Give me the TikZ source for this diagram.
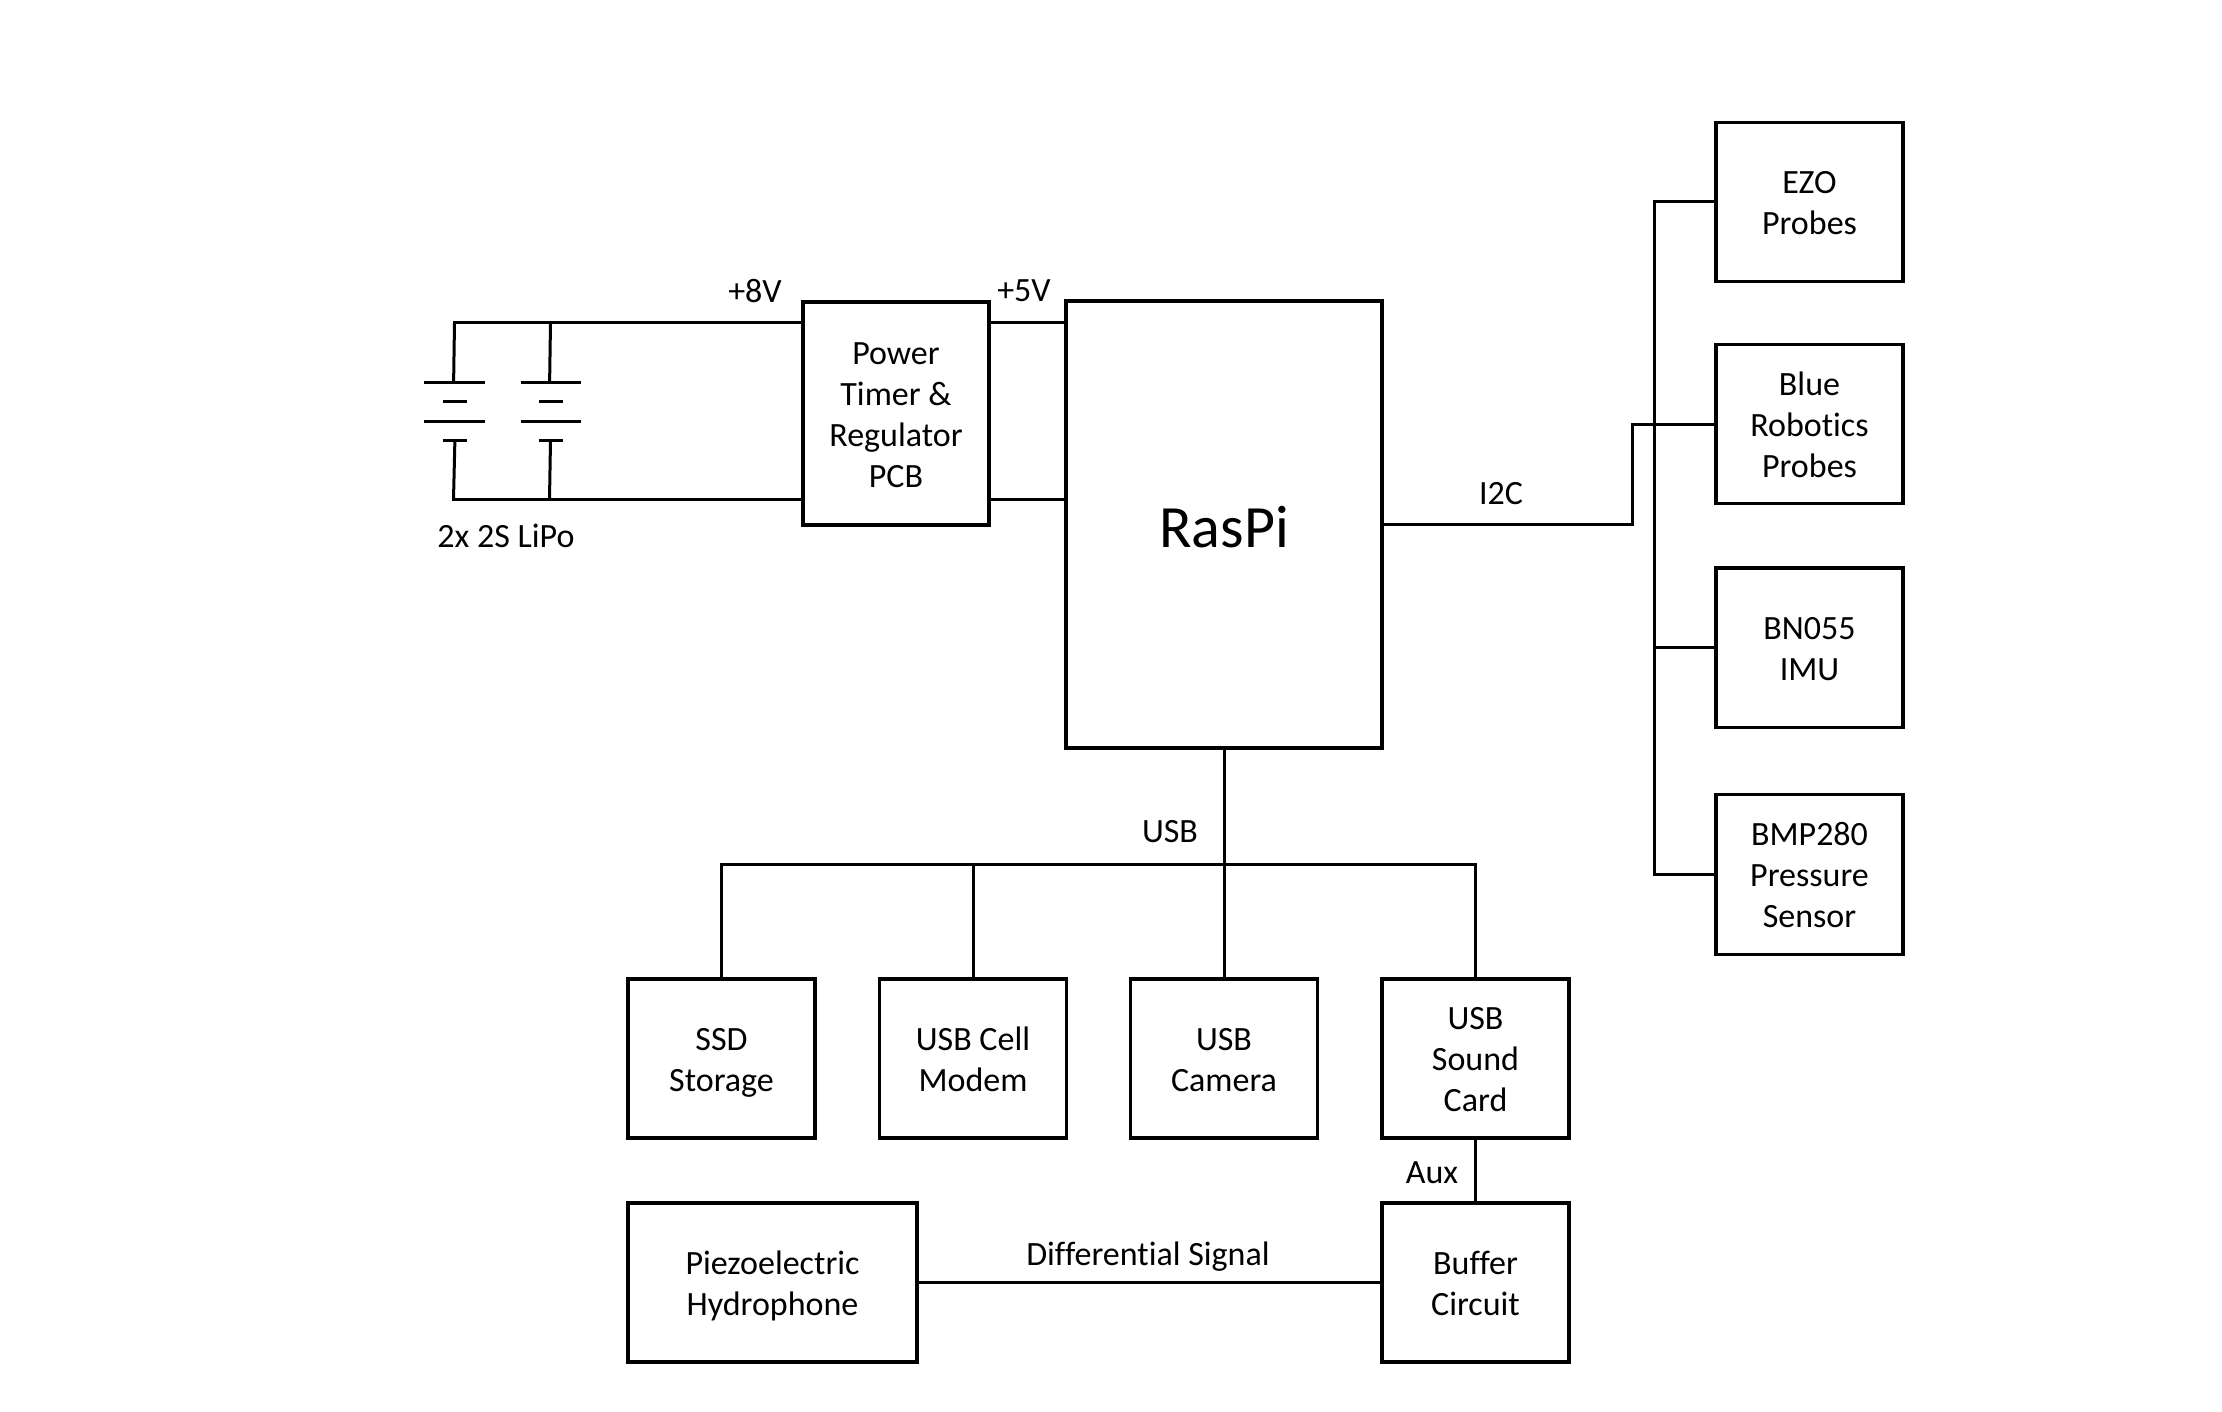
\documentclass[tikz,border=0pt]{standalone}
\usepackage{fontspec}
\setmainfont[Ligatures=NoCommon]{Carlito}
\newcommand{\bt}{\rule{0pt}{37pt}}
\begin{document}
\begin{tikzpicture}[x=1pt,y=-1pt,
  wire/.style={draw=black,line width=3pt,line cap=rect,line join=miter},
  plate/.style={draw=black,line width=3pt},
  blockn/.style={draw=black,line width=3.15pt,fill=white,outer sep=0pt,inner sep=0pt,align=center,
    font=\fontsize{34}{41}\selectfont},
  lbl/.style={inner sep=0pt,font=\fontsize{34}{41}\selectfont}]
\useasboundingbox[fill=white] (0,0) rectangle (2222,1412);

% coordinates for power rails and buses
\coordinate (topL) at (454.5,323);
\coordinate (topR) at (550.5,323);
\coordinate (botL) at (453.5,499.5);
\coordinate (botR) at (549.5,499.5);
\coordinate (usbbus) at (1224,864);
\coordinate (busx) at (1654,524);
\coordinate (busy) at (1654.8,524.5);
\coordinate (jog) at (1632.5,424);

% wires (drawn first, blocks on top)
\draw[wire] (topL) -- (1066,323);
\draw[wire] (botL) -- (1066,499.5);

% blocks
\node[blockn,minimum width=186pt,minimum height=223pt] (power) at (896,413.5) {\bt Power\\Timer \&\\Regulator\\PCB\strut};
\node[blockn,minimum width=316pt,minimum height=447pt,font=\fontsize{60}{64}\selectfont] (raspi) at (1224,524.5) {\rule{0pt}{64.8pt}RasPi\strut};
\node[blockn,minimum width=187pt,minimum height=159.5pt] (ezo) at (1809.5,202) {\bt EZO\\Probes\strut};
\node[blockn,minimum width=187pt,minimum height=159.5pt] (blue) at (1809.5,424) {\bt Blue\\Robotics\\Probes\strut};
\node[blockn,minimum width=187pt,minimum height=159.5pt] (bn) at (1809.5,647.7) {\bt BN055\\IMU\strut};
\node[blockn,minimum width=187pt,minimum height=159.5pt] (bmp) at (1809.5,874.6) {\bt BMP280\\Pressure\\Sensor\strut};
\node[blockn,minimum width=187pt,minimum height=159pt] (ssd) at (721.5,1058.5) {\bt SSD\\Storage\strut};
\node[blockn,minimum width=187pt,minimum height=159pt] (modem) at (973,1058.5) {\bt USB Cell\\Modem\strut};
\node[blockn,minimum width=187pt,minimum height=159pt] (camera) at (1224,1058.5) {\bt USB\\Camera\strut};
\node[blockn,minimum width=187pt,minimum height=159pt] (sound) at (1475.5,1058.5) {\bt USB\\Sound\\Card\strut};
\node[blockn,minimum width=289pt,minimum height=159pt] (piezo) at (772.5,1282.5) {\bt Piezoelectric\\Hydrophone\strut};
\node[blockn,minimum width=187pt,minimum height=159pt] (buffer) at (1475.5,1282.5) {\bt Buffer\\Circuit\strut};

% battery symbols
\foreach \xc in {454.7,551}{
  \draw[plate] (\xc-30.3,383) -- (\xc+30.3,383);
  \draw[plate] (\xc-12.2,401.7) -- (\xc+12.2,401.7);
  \draw[plate] (\xc-30.3,421.7) -- (\xc+30.3,421.7);
  \draw[plate] (\xc-12.2,440.3) -- (\xc+12.2,440.3);
}
\draw[wire,line cap=butt] (topL) -- (453.6,383);
\draw[wire,line cap=butt] (topR) -- (549.6,383);
\draw[wire,line cap=butt] (454.9,440.3) -- (botL);
\draw[wire,line cap=butt] (550.5,440.3) -- (botR);

% USB tree
\draw[wire,line cap=butt] (raspi.south) -- (camera.north);
\draw[wire,line cap=butt] (ssd.north) -- (ssd.north |- usbbus) -- (sound.north |- usbbus) -- (sound.north);
\draw[wire,line cap=butt] (modem.north) -- (modem.north |- usbbus);

% audio chain
\draw[wire,line cap=butt] (sound.south) -- (buffer.north);
\draw[wire,line cap=butt] (piezo.east) -- (buffer.west);

% I2C
\draw[wire,line cap=butt] (raspi.east) -- (jog |- raspi.east) -- (jog) -- (blue.west);
\draw[wire,line cap=butt] (ezo.west) -- (busx |- ezo.west) -- (busx |- bmp.west) -- (bmp.west);
\draw[wire,line cap=butt] (bn.west) -- (busx |- bn.west);
\draw[wire,line cap=butt] (busy) -- (busy |- bn.west);

% labels
\node[lbl] (l8v) at (755,291) {+8V};
\node[lbl] (l5v) at (1024,291) {+5V};
\node[lbl] (lipo) at (506,536) {2x 2S LiPo};
\node[lbl] (li2c) at (1501,494) {I2C};
\node[lbl] (lusb) at (1170,832) {USB};
\node[lbl] (laux) at (1432,1173) {Aux};
\node[lbl] (ldiff) at (1148,1257) {Differential Signal};
\end{tikzpicture}
\end{document}
